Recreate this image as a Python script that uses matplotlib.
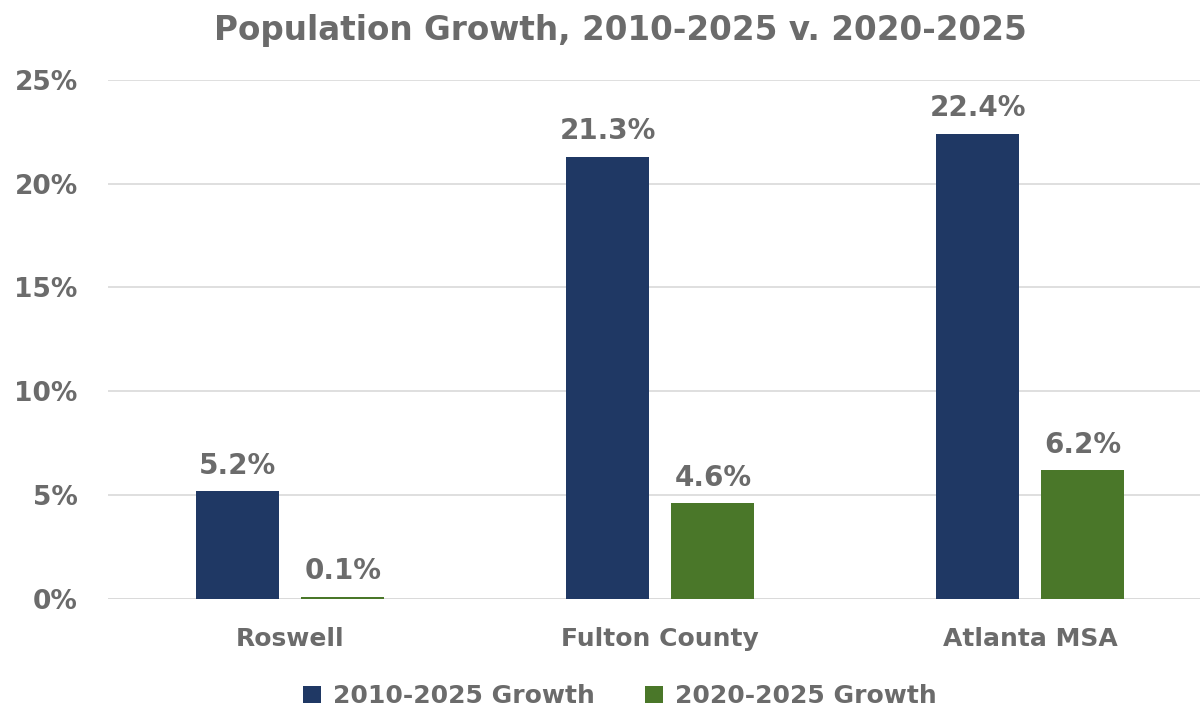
import numpy as np
import matplotlib.pyplot as plt
from matplotlib.ticker import FuncFormatter

places = ['Roswell', 'Fulton County', 'Atlanta MSA']
growth_2010 = [5.2, 21.3, 22.4]
growth_2020 = [0.1, 4.6, 6.2]
series_names = ['2010-2025 Growth', '2020-2025 Growth']

blue = '#1f3864'
green = '#4a7729'
gray = '#6b6b6b'

plt.rcParams['font.family'] = ['DejaVu Sans']
plt.rcParams['font.weight'] = 'bold'

fig = plt.figure(figsize=(12.04, 7.06), dpi=100)
ax = fig.add_axes([0.09, 0.1516, 0.907, 0.7354])

x = np.arange(len(places))
w = 0.224
off = 0.142
b1 = ax.bar(x - off, growth_2010, w, color=blue, label=series_names[0], zorder=3)
b2 = ax.bar(x + off, growth_2020, w, color=green, label=series_names[1], zorder=3)

for bars, vals in ((b1, growth_2010), (b2, growth_2020)):
    for b, v in zip(bars, vals):
        ax.text(b.get_x() + b.get_width() / 2, v + 0.55, '%.1f%%' % v,
                ha='center', va='bottom', fontsize=20, color=gray, fontweight='bold')

ax.set_ylim(0, 25)
ax.set_xlim(-0.492, 2.46)
ax.set_yticks(np.arange(0, 26, 5))
ax.yaxis.set_major_formatter(FuncFormatter(lambda v, p: '%d%%' % v))
ax.set_xticks(x)
ax.set_xticklabels(places)
ax.tick_params(axis='both', length=0, labelsize=18, colors=gray)
ax.tick_params(axis='x', pad=20)
ax.tick_params(axis='y', pad=22, labelsize=19)

ax.grid(axis='y', color='#d9d9d9', linewidth=1.2, zorder=0)
for s in ax.spines.values():
    s.set_visible(False)
ax.axhline(0, color='#d9d9d9', linewidth=1.2, zorder=2)

fig.suptitle('Population Growth, 2010-2025 v. 2020-2025', x=0.515, y=0.98,
             fontsize=23.5, color=gray, fontweight='bold')

fig.legend(handles=[b1, b2], loc='lower center', bbox_to_anchor=(0.515, -0.035),
           ncol=2, frameon=False, fontsize=18, labelcolor=gray,
           handlelength=0.7, handleheight=0.7, columnspacing=2.0, handletextpad=0.5)

fig.savefig('out.png', dpi=100)
